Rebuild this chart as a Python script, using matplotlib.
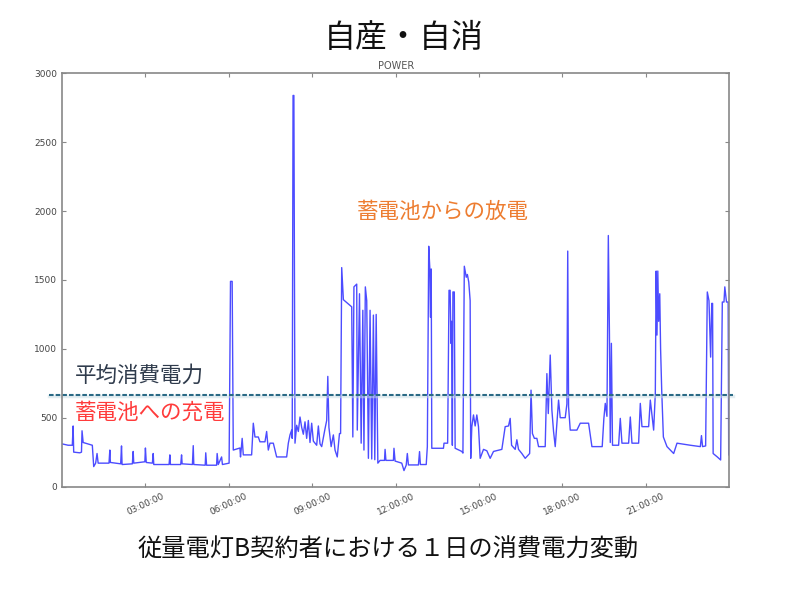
import numpy as np
import matplotlib
matplotlib.use("Agg")
import matplotlib.pyplot as plt
from matplotlib.lines import Line2D

# power draw over one day (hours, W)
hours = [
    0.00, 0.22, 0.37, 0.40, 0.42, 0.64, 0.70, 0.72, 0.76, 1.09, 1.14, 1.21, 1.26, 1.30,
    1.69, 1.72, 1.74, 2.11, 2.14, 2.16, 2.53, 2.56, 2.58, 2.98, 3.00, 3.03, 3.25, 3.28,
    3.30, 3.85, 3.88, 3.90, 4.27, 4.30, 4.32, 4.69, 4.72, 4.74, 5.15, 5.17, 5.20, 5.56,
    5.58, 5.62, 5.74, 5.77, 6.01, 6.06, 6.12, 6.16, 6.40, 6.42, 6.48, 6.52, 6.82, 6.88,
    6.94, 7.06, 7.12, 7.30, 7.36, 7.42, 7.48, 7.60, 7.72, 8.08, 8.14, 8.20, 8.26, 8.28,
    8.31, 8.34, 8.38, 8.44, 8.50, 8.56, 8.62, 8.68, 8.74, 8.80, 8.86, 8.92, 8.98, 9.04,
    9.16, 9.22, 9.28, 9.34, 9.46, 9.52, 9.56, 9.60, 9.68, 9.76, 9.82, 9.90, 9.98, 10.02,
    10.06, 10.12, 10.42, 10.46, 10.50, 10.60, 10.62, 10.70, 10.76, 10.82, 10.86, 10.91,
    10.96, 11.02, 11.08, 11.14, 11.20, 11.25, 11.30, 11.36, 11.44, 11.60, 11.62, 11.65,
    11.92, 11.94, 11.98, 12.22, 12.30, 12.38, 12.42, 12.46, 12.82, 12.86, 12.89, 13.10,
    13.14, 13.19, 13.23, 13.25, 13.28, 13.30, 13.72, 13.74, 13.87, 13.92, 13.96, 13.99,
    14.01, 14.04, 14.06, 14.11, 14.14, 14.38, 14.42, 14.47, 14.54, 14.58, 14.63, 14.68,
    14.70, 14.74, 14.80, 14.86, 14.92, 14.98, 15.04, 15.16, 15.28, 15.40, 15.52, 15.82,
    15.94, 16.06, 16.12, 16.17, 16.30, 16.36, 16.42, 16.54, 16.66, 16.82, 16.87, 16.92,
    16.99, 17.08, 17.14, 17.38, 17.44, 17.49, 17.56, 17.62, 17.68, 17.74, 17.86, 17.92,
    18.10, 18.16, 18.19, 18.22, 18.28, 18.52, 18.64, 18.94, 19.06, 19.43, 19.49, 19.54,
    19.60, 19.65, 19.69, 19.72, 19.76, 19.80, 20.02, 20.08, 20.14, 20.38, 20.44, 20.50,
    20.74, 20.80, 20.86, 21.10, 21.16, 21.28, 21.34, 21.37, 21.40, 21.43, 21.46, 21.50,
    21.53, 21.57, 21.63, 21.76, 22.00, 22.12, 22.60, 22.96, 23.00, 23.04, 23.15, 23.21,
    23.27, 23.33, 23.37, 23.40, 23.42, 23.57, 23.69, 23.75, 23.81, 23.84, 23.90, 23.96,
    23.98,
]
watts = [
    310, 300, 300, 440, 250, 245, 250, 405, 320, 300, 145, 170, 240, 170,
    170, 265, 175, 165, 295, 160, 165, 255, 170, 180, 280, 175, 170, 240,
    160, 160, 230, 160, 160, 230, 165, 160, 297, 160, 155, 245, 155, 155,
    240, 160, 215, 160, 170, 1490, 1490, 265, 280, 215, 350, 230, 230, 460,
    360, 360, 325, 325, 400, 265, 315, 315, 215, 215, 315, 375, 410, 350,
    2840, 2840, 315, 445, 400, 505, 430, 380, 470, 350, 480, 320, 460, 330,
    300, 440, 310, 290, 420, 480, 800, 430, 290, 375, 265, 215, 385, 385,
    1590, 1357, 1305, 360, 1450, 1470, 410, 1400, 315, 1280, 265, 1450,
    1350, 205, 1280, 200, 1245, 195, 1250, 170, 190, 190, 270, 190,
    190, 278, 185, 170, 116, 155, 240, 157, 157, 254, 160, 160,
    290, 1745, 1580, 1230, 1580, 278, 278, 315, 315, 1425, 1425, 1040,
    1200, 300, 1413, 1413, 278, 255, 243, 1600, 1520, 1540, 1485, 1350,
    205, 435, 520, 440, 520, 435, 205, 270, 260, 205, 255, 270,
    435, 440, 495, 300, 270, 340, 270, 240, 205, 240, 700, 385,
    350, 350, 290, 290, 820, 530, 955, 555, 400, 290, 628, 500,
    500, 600, 1710, 580, 410, 410, 460, 460, 290, 290, 495, 604,
    510, 1823, 1110, 320, 1040, 300, 300, 495, 315, 315, 505, 315,
    315, 604, 435, 435, 628, 410, 675, 1565, 1100, 1565, 1200, 1400,
    1000, 700, 360, 290, 240, 315, 300, 290, 370, 290, 295, 1413,
    1350, 940, 1330, 1330, 240, 215, 193, 1340, 1340, 1450, 1340, 1340,
    230,
]

mean_power = 665
tick_hours = [3, 6, 9, 12, 15, 18, 21]
tick_labels = ["%02d:00:00" % h for h in tick_hours]
y_ticks = [0, 500, 1000, 1500, 2000, 2500, 3000]

jp = ["Noto Sans CJK JP", "DejaVu Sans"]

fig = plt.figure(figsize=(7.85, 5.97), dpi=100)
ax = fig.add_axes([0.079, 0.185, 0.850, 0.692])

ax.plot(hours, watts, color="#0000ff", lw=1.0, alpha=0.7)

ax.set_xlim(0, 24)
ax.set_ylim(0, 3000)
ax.set_xticks(tick_hours)
ax.set_xticklabels(tick_labels, rotation=25, ha="center", fontsize=6.5, color="#444444")
ax.set_yticks(y_ticks)
ax.set_yticklabels([str(v) for v in y_ticks], fontsize=6.5, color="#444444")
ax.tick_params(direction="in", length=3, color="#888888", top=True, right=True)
for s in ax.spines.values():
    s.set_color("#888888")
    s.set_linewidth(1.2)
ax.set_title("POWER", fontsize=7, color="#555555", pad=3)

# mean line, running a little past the axes on both sides
x0, x1 = -0.02, 1.006
ax.add_line(Line2D([x0, x1], [mean_power - 8, mean_power - 8], transform=ax.get_yaxis_transform(),
                   color="#c9dde4", lw=2.5, clip_on=False, alpha=0.5))
ax.add_line(Line2D([x0, x1], [mean_power, mean_power], transform=ax.get_yaxis_transform(),
                   color="#2a6a85", lw=1.5, ls=(0, (2.2, 1.0)), clip_on=False))

fig.text(0.515, 0.937, "自産・自消", family=jp, fontsize=23, ha="center", va="center", color="#111111")
fig.text(0.0955, 0.370, "平均消費電力", family=jp, fontsize=15.5, ha="left", va="center", color="#2f3b4c")
fig.text(0.0955, 0.308, "蓄電池への充電", family=jp, fontsize=15.5, ha="left", va="center", color="#ff3b3b")
fig.text(0.455, 0.645, "蓄電池からの放電", family=jp, fontsize=15.5, ha="left", va="center", color="#ed7d31")
fig.text(0.494, 0.079, "従量電灯B契約者における１日の消費電力変動", family=jp, fontsize=17.5,
         ha="center", va="center", color="#111111")

fig.savefig("out.png", dpi=100)
